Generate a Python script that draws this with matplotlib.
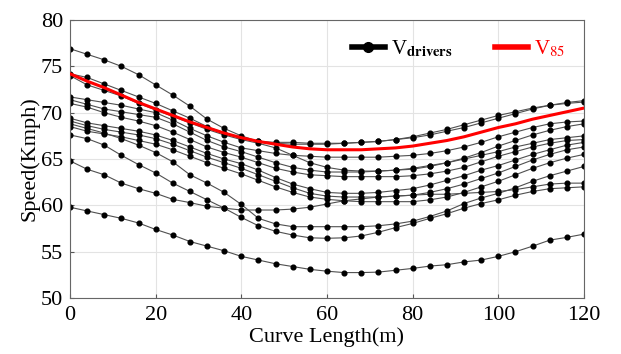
import matplotlib.pyplot as plt
import numpy as np

plt.rcParams['font.family'] = 'Liberation Serif'
plt.rcParams['mathtext.fontset'] = 'stix'

# Curve length stations (m)
length = np.arange(0, 121, 4)

# Speed profiles of individual drivers (km/h)
drivers = [
    [76.9, 76.3, 75.7, 75.0, 74.1, 73.0, 71.9, 70.7, 69.3, 68.3, 67.5, 66.9, 66.8, 66.8, 66.7, 66.7,
     66.7, 66.8, 66.9, 67.1, 67.3, 67.6, 68.0, 68.4, 68.9, 69.4, 69.9, 70.4, 70.8, 71.1, 71.3],
    [74.2, 73.8, 73.1, 72.4, 71.7, 71.0, 70.2, 69.4, 68.5, 67.8, 67.3, 66.9, 66.7, 66.6, 66.6, 66.6,
     66.7, 66.8, 66.9, 67.1, 67.4, 67.8, 68.2, 68.7, 69.2, 69.7, 70.1, 70.5, 70.8, 71.0, 71.15],
    [74.0, 73.0, 72.4, 71.8, 71.0, 70.3, 69.6, 68.9, 68.2, 67.6, 67.1, 66.7, 66.2, 65.4, 64.6, 64.1,
     63.8, 63.7, 63.7, 63.8, 64.0, 64.3, 64.6, 65.0, 65.4, 65.8, 66.3, 66.7, 67.1, 67.3, 67.5],
    [71.7, 71.4, 71.1, 70.8, 70.4, 70.0, 69.2, 68.3, 67.5, 66.8, 66.2, 65.9, 65.6, 65.4, 65.3, 65.2,
     65.2, 65.2, 65.2, 65.3, 65.4, 65.6, 65.9, 66.3, 66.8, 67.4, 67.9, 68.4, 68.8, 69.0, 69.1],
    [71.4, 70.9, 70.4, 70.1, 69.8, 69.5, 68.8, 67.9, 67.0, 66.3, 65.8, 65.2, 64.6, 64.1, 63.8, 63.6,
     63.6, 63.6, 63.7, 63.8, 63.9, 64.2, 64.6, 65.1, 65.7, 66.4, 67.0, 67.6, 68.1, 68.5, 68.8],
    [71.0, 70.6, 70.0, 69.5, 69.1, 68.6, 67.9, 67.1, 66.3, 65.7, 65.2, 64.6, 64.0, 63.6, 63.3, 63.2,
     63.1, 63.1, 63.1, 63.1, 63.2, 63.4, 63.7, 64.1, 64.7, 65.3, 65.8, 66.3, 66.7, 67.0, 67.1],
    [69.4, 68.9, 68.6, 68.3, 68.0, 67.6, 67.0, 66.3, 65.6, 65.0, 64.5, 63.8, 63.0, 62.3, 61.8, 61.4,
     61.3, 61.3, 61.4, 61.6, 61.8, 62.2, 62.7, 63.2, 63.8, 64.3, 64.9, 65.5, 66.0, 66.5, 66.8],
    [69.1, 68.6, 68.2, 67.9, 67.6, 67.2, 66.6, 65.9, 65.2, 64.6, 64.0, 63.3, 62.6, 61.9, 61.3, 61.0,
     60.9, 60.9, 60.9, 61.0, 61.1, 61.4, 61.8, 62.3, 62.9, 63.5, 64.2, 64.9, 65.5, 66.0, 66.3],
    [68.5, 68.0, 67.7, 67.4, 67.0, 66.6, 66.0, 65.3, 64.6, 64.0, 63.4, 62.7, 62.0, 61.4, 60.9, 60.65,
     60.5, 60.4, 60.4, 60.4, 60.4, 60.6, 60.9, 61.4, 62.0, 62.6, 63.3, 64.0, 64.6, 65.1, 65.5],
    [68.8, 68.3, 67.8, 67.2, 66.5, 65.7, 64.7, 63.3, 62.4, 61.4, 60.1, 58.6, 58.0, 57.7, 57.7, 57.7,
     57.7, 57.7, 57.8, 58.0, 58.3, 58.8, 59.4, 60.2, 60.8, 61.3, 61.9, 62.6, 63.2, 63.7, 64.2],
    [67.6, 67.2, 66.5, 65.4, 64.4, 63.5, 62.4, 61.5, 60.6, 59.7, 58.7, 57.8, 57.2, 56.8, 56.5, 56.45,
     56.5, 56.7, 57.1, 57.6, 58.05, 58.6, 59.1, 59.7, 60.2, 60.6, 61.1, 61.5, 61.8, 61.9, 62.0],
    [64.8, 63.9, 63.3, 62.4, 61.8, 61.3, 60.65, 60.3, 59.9, 59.7, 59.5, 59.5, 59.5, 59.6, 59.8, 60.15,
     60.5, 60.7, 60.9, 61.0, 61.1, 61.2, 61.2, 61.3, 61.4, 61.5, 61.7, 62.0, 62.3, 62.4, 62.4],
    [59.8, 59.4, 59.0, 58.6, 58.1, 57.4, 56.8, 56.1, 55.6, 55.1, 54.5, 54.1, 53.7, 53.4, 53.1, 52.9,
     52.75, 52.75, 52.8, 53.0, 53.2, 53.45, 53.6, 53.9, 54.1, 54.5, 55.0, 55.6, 56.25, 56.55, 56.9],
]

# 85th percentile speed profile
v85 = [74.2, 73.4, 72.7, 71.9, 71.1, 70.4, 69.7, 69.0, 68.4, 67.8, 67.3, 66.9, 66.6, 66.3, 66.1, 66.0,
       66.0, 66.0, 66.1, 66.2, 66.4, 66.7, 67.0, 67.4, 67.9, 68.4, 68.8, 69.3, 69.7, 70.1, 70.5]

fig = plt.figure(figsize=(6.21, 3.54), dpi=100)
ax = fig.add_axes([0.1127, 0.158, 0.8277, 0.7855])

for speeds in drivers:
    ax.plot(length, speeds, color='#505050', lw=0.8, marker='o', ms=3.4,
            mfc='black', mec='black', zorder=2)
ax.plot(length, v85, color='red', lw=2.2, zorder=3)

# legend handles
h1, = ax.plot([], [], color='black', lw=4, marker='o', ms=7, mfc='black', mec='black')
h2, = ax.plot([], [], color='red', lw=4)
leg = ax.legend([h1, h2], [r'V$_{\mathbf{drivers}}$', r'V$_{85}$'], ncol=2, loc='upper right',
                bbox_to_anchor=(1.0, 1.0), frameon=False, fontsize=15, handlelength=1.6,
                handletextpad=0.3, columnspacing=2.0)
leg.get_texts()[1].set_color('red')

ax.set_xlim(0, 120)
ax.set_ylim(50, 80)
ax.set_xticks(range(0, 121, 20))
ax.set_yticks(range(50, 81, 5))
ax.grid(True, color='#e3e3e3', lw=0.8)
ax.set_axisbelow(True)
ax.tick_params(direction='in', length=3, labelsize=16, color='#555555')
ax.tick_params(axis='x', pad=6)
ax.tick_params(axis='y', pad=5)
for s in ax.spines.values():
    s.set_color('#666666')
    s.set_linewidth(0.8)

ax.set_xlabel('Curve Length(m)', fontsize=16, labelpad=1)
ax.set_ylabel('Speed(Kmph)', fontsize=16, labelpad=1)

plt.savefig('out.png', dpi=100)
